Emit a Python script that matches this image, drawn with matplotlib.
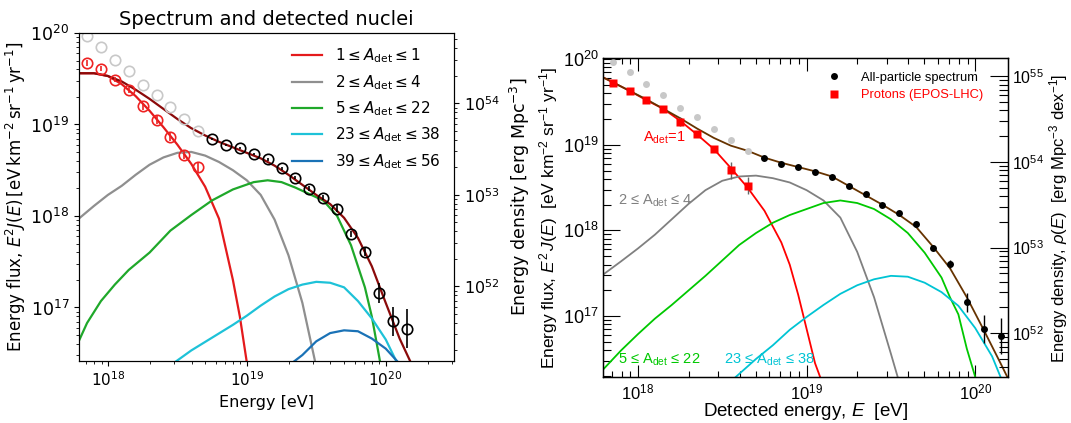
import numpy as np
import matplotlib
matplotlib.use("Agg")
import matplotlib.pyplot as plt
from matplotlib.lines import Line2D

plt.rcParams['mathtext.fontset'] = 'dejavusans'
plt.rcParams['mathtext.rm'] = 'Liberation Sans'
plt.rcParams['mathtext.it'] = 'Liberation Sans:italic'
plt.rcParams['mathtext.bf'] = 'Liberation Sans:bold'

# ---- data points (log10 E [eV], log10 E^2 J [eV km-2 sr-1 yr-1]) ----
lgE_low = [17.85, 17.95, 18.05, 18.15, 18.25, 18.35, 18.45, 18.55, 18.65]
lgF_low_all = [19.97, 19.85, 19.71, 19.58, 19.43, 19.32, 19.19, 19.06, 18.93]
lgF_prot_left = [19.67, 19.61, 19.49, 19.38, 19.20, 19.05, 18.86, 18.67, 18.53]
err_prot_left = [0.03, 0.03, 0.03, 0.035, 0.04, 0.04, 0.045, 0.045, 0.05]
lgF_prot_right = [19.72, 19.63, 19.52, 19.42, 19.27, 19.12, 18.95, 18.70, 18.52]
err_prot_right = [0.02, 0.02, 0.02, 0.03, 0.05, 0.03, 0.04, 0.10, 0.10]

lgE_high = [18.75, 18.85, 18.95, 19.05, 19.15, 19.25, 19.35, 19.45,
            19.55, 19.65, 19.75, 19.85, 19.95, 20.05, 20.15]
lgF_all = [18.84, 18.78, 18.74, 18.68, 18.62, 18.52, 18.42, 18.30,
           18.20, 18.08, 17.80, 17.61, 17.16, 16.85, 16.77]
err_all = [0.01, 0.01, 0.01, 0.01, 0.015, 0.02, 0.02, 0.025,
           0.03, 0.035, 0.035, 0.05, 0.11, 0.16, 0.21]

# ---- left panel model curves ----
L_tot_x = [17.79, 17.9, 18.0, 18.1, 18.2, 18.3, 18.4, 18.5, 18.6, 18.7, 18.8, 18.9, 19.0,
           19.1, 19.2, 19.3, 19.4, 19.5, 19.6, 19.7, 19.8, 19.9, 20.0, 20.1, 20.18]
L_tot_y = [19.56, 19.56, 19.53, 19.47, 19.38, 19.28, 19.17, 19.06, 18.96, 18.88, 18.81, 18.75, 18.69,
           18.63, 18.55, 18.45, 18.34, 18.23, 18.13, 17.98, 17.76, 17.45, 17.05, 16.66, 16.40]
L_a1_x = [17.79, 17.9, 18.0, 18.1, 18.2, 18.3, 18.4, 18.5, 18.6, 18.7, 18.8, 18.9, 18.95, 19.0]
L_a1_y = [19.56, 19.56, 19.53, 19.44, 19.31, 19.15, 18.97, 18.78, 18.57, 18.32, 17.97, 17.30, 16.90, 16.40]
L_a2_x = [17.79, 17.9, 18.0, 18.1, 18.2, 18.3, 18.4, 18.5, 18.6, 18.7, 18.8, 18.9, 19.0,
          19.1, 19.2, 19.3, 19.4, 19.5]
L_a2_y = [17.97, 18.11, 18.23, 18.33, 18.45, 18.56, 18.64, 18.69, 18.70, 18.66, 18.59, 18.50, 18.39,
          18.23, 17.96, 17.57, 17.05, 16.35]
L_a3_x = [17.79, 17.85, 17.95, 18.05, 18.15, 18.3, 18.45, 18.6, 18.75, 18.9, 19.05, 19.15,
          19.25, 19.35, 19.45, 19.55, 19.65, 19.75, 19.85, 19.9, 19.96]
L_a3_y = [16.63, 16.83, 17.07, 17.25, 17.41, 17.60, 17.84, 18.01, 18.17, 18.29, 18.37, 18.39,
          18.37, 18.31, 18.24, 18.17, 18.00, 17.68, 17.22, 16.90, 16.40]
L_a4_x = [18.49, 18.6, 18.75, 18.9, 19.0, 19.1, 19.2, 19.3, 19.4, 19.5, 19.6, 19.7, 19.8, 19.9, 20.0, 20.08]
L_a4_y = [16.41, 16.53, 16.67, 16.81, 16.91, 17.02, 17.12, 17.20, 17.25, 17.28, 17.27, 17.22, 17.07, 16.88, 16.65, 16.40]
L_a5_x = [19.34, 19.4, 19.5, 19.6, 19.7, 19.8, 19.9, 20.0, 20.09]
L_a5_y = [16.41, 16.48, 16.63, 16.72, 16.75, 16.74, 16.66, 16.55, 16.40]

# ---- right panel model curves ----
R_tot_x = [17.79, 17.85, 17.95, 18.05, 18.15, 18.25, 18.35, 18.45, 18.55, 18.65, 18.75, 18.85, 18.95,
           19.05, 19.15, 19.25, 19.35, 19.45, 19.55, 19.65, 19.75, 19.85, 19.95, 20.05, 20.15, 20.19]
R_tot_y = [19.79, 19.73, 19.63, 19.53, 19.42, 19.31, 19.19, 19.08, 18.99, 18.93, 18.85, 18.79, 18.74,
           18.69, 18.63, 18.52, 18.41, 18.30, 18.18, 18.04, 17.81, 17.56, 17.22, 16.84, 16.45, 16.29]
R_a1_x = [17.79, 17.85, 17.95, 18.05, 18.15, 18.25, 18.35, 18.45, 18.55, 18.65, 18.75, 18.85,
          18.9, 18.95, 19.0, 19.05, 19.08]
R_a1_y = [19.79, 19.73, 19.63, 19.52, 19.42, 19.28, 19.12, 18.95, 18.73, 18.50, 18.23, 17.86,
          17.60, 17.25, 16.85, 16.45, 16.29]
R_a2_x = [17.79, 17.9, 18.0, 18.1, 18.2, 18.3, 18.4, 18.5, 18.6, 18.7, 18.8, 18.9, 19.0,
          19.1, 19.2, 19.3, 19.4, 19.5, 19.54]
R_a2_y = [17.48, 17.64, 17.79, 17.95, 18.13, 18.31, 18.47, 18.58, 18.63, 18.64, 18.61, 18.56, 18.47,
          18.35, 18.15, 17.75, 17.22, 16.56, 16.29]
R_a3_x = [17.79, 17.9, 18.0, 18.1, 18.2, 18.3, 18.4, 18.5, 18.6, 18.7, 18.8, 18.9, 19.0,
          19.1, 19.2, 19.3, 19.4, 19.5, 19.6, 19.7, 19.8, 19.85, 19.9, 19.95, 20.0]
R_a3_y = [16.37, 16.60, 16.79, 16.97, 17.13, 17.30, 17.47, 17.65, 17.83, 17.97, 18.09, 18.18, 18.25,
          18.32, 18.35, 18.32, 18.25, 18.13, 17.97, 17.74, 17.45, 17.22, 17.02, 16.62, 16.29]
R_a4_x = [18.58, 18.7, 18.8, 18.9, 19.0, 19.1, 19.2, 19.3, 19.4, 19.5, 19.6, 19.7, 19.8, 19.9, 20.0, 20.1, 20.15]
R_a4_y = [16.29, 16.50, 16.66, 16.84, 16.99, 17.13, 17.26, 17.36, 17.43, 17.47, 17.46, 17.39, 17.28, 17.12, 16.86, 16.53, 16.29]

left_labels = [r'$1 \leq A_{\rm det} \leq 1$', r'$2 \leq A_{\rm det} \leq 4$',
               r'$5 \leq A_{\rm det} \leq 22$', r'$23 \leq A_{\rm det} \leq 38$',
               r'$39 \leq A_{\rm det} \leq 56$']
left_colors = ['#e41a1c', '#8f8f8f', '#1fa82a', '#1ec2d8', '#1a72b6']
right_colors = ['#ff0000', '#808080', '#00c800', '#00c4d4']


def p10(v):
    return 10.0 ** np.asarray(v)


def dex_err(lgF, err):
    f = p10(lgF)
    e = np.asarray(err)
    return [f - f * 10 ** (-e), f * 10 ** e - f]


fig = plt.figure(figsize=(10.71, 4.23), dpi=100)

# ================= left panel (matplotlib style) =================
ax = fig.add_axes([0.0738, 0.1466, 0.3501, 0.7754])
ax.set_xscale('log')
ax.set_yscale('log')
curves = [(L_a1_x, L_a1_y), (L_a2_x, L_a2_y), (L_a3_x, L_a3_y), (L_a4_x, L_a4_y), (L_a5_x, L_a5_y)]
for (cx, cy), col, lab in zip(curves, left_colors, left_labels):
    ax.plot(p10(cx), p10(cy), color=col, lw=1.6, label=lab)
ax.plot(p10(L_tot_x), p10(L_tot_y), color='#8b0a0a', lw=1.6)

ax.plot(p10(lgE_low), p10(lgF_low_all), 'o', ms=7.5, mfc='none', mec='#c8c8c8', mew=1.2)
ax.errorbar(p10(lgE_low), p10(lgF_prot_left), yerr=dex_err(lgF_prot_left, err_prot_left),
            fmt='o', ms=7.5, mfc='none', mec='#ee2222', ecolor='#ee2222', mew=1.2, elinewidth=1.2)
ax.errorbar(p10(lgE_high), p10(lgF_all), yerr=dex_err(lgF_all, err_all),
            fmt='o', ms=7.5, mfc='none', mec='black', ecolor='black', mew=1.2, elinewidth=1.2)

ax.set_xlim(6.2e17, 3.1e20)
ax.set_ylim(2.6e16, 1e20)
ax.tick_params(axis='x', labelsize=11)
ax.tick_params(axis='y', labelsize=12.5)
ax.set_xlabel('Energy [eV]', fontsize=11.5)
ax.set_ylabel(r'Energy flux, $E^2J(E)\,[\rm eV\,km^{-2}\,sr^{-1}\,yr^{-1}]$', fontsize=12, labelpad=2)
ax.set_title('Spectrum and detected nuclei', fontsize=14, pad=6)
ax.legend(loc='upper right', frameon=False, fontsize=11)

axr = ax.twinx()
axr.set_yscale('log')
axr.set_ylim(2.6e16 * 10 ** 34.77, 1e20 * 10 ** 34.77)
axr.tick_params(axis='y', labelsize=11.5)
axr.set_ylabel(r'Energy density [erg Mpc$^{-3}$]', fontsize=12.5, labelpad=6)

# ================= right panel (ROOT style) =================
rfont = 'Liberation Sans'
bx = fig.add_axes([0.563, 0.108, 0.378, 0.754])
bx.set_xscale('log')
bx.set_yscale('log')
rcurves = [(R_a1_x, R_a1_y), (R_a2_x, R_a2_y), (R_a3_x, R_a3_y), (R_a4_x, R_a4_y)]
for (cx, cy), col in zip(rcurves, right_colors):
    bx.plot(p10(cx), p10(cy), color=col, lw=1.3)
bx.plot(p10(R_tot_x), p10(R_tot_y), color='#663300', lw=1.3)

bx.plot(p10(lgE_low), p10(lgF_low_all), 'o', ms=5, color='#c8c8c8', mec='none')
bx.errorbar(p10(lgE_low), p10(lgF_prot_right), yerr=dex_err(lgF_prot_right, err_prot_right),
            fmt='s', ms=5.5, color='#ff0000', mec='none', ecolor='#666666', elinewidth=1.0)
bx.errorbar(p10(lgE_high), p10(lgF_all), yerr=dex_err(lgF_all, err_all),
            fmt='o', ms=5, color='black', mec='none', ecolor='black', elinewidth=1.0)

bx.set_xlim(6.2e17, 1.56e20)
bx.set_ylim(1.93e16, 1.02e20)
for sp in bx.spines.values():
    sp.set_linewidth(1.0)
bx.tick_params(axis='x', which='both', direction='in', top=True, bottom=True,
               labelsize=12, labelfontfamily=rfont, pad=4)
bx.tick_params(axis='x', which='major', length=9, width=0.8)
bx.tick_params(axis='x', which='minor', length=4.5, width=0.8)
bx.tick_params(axis='y', which='both', direction='in', left=True, right=False,
               labelsize=13, labelfontfamily=rfont, pad=3)
bx.tick_params(axis='y', which='major', length=12, width=0.8)
bx.tick_params(axis='y', which='minor', length=6, width=0.8)
bx.set_xlabel(r'Detected energy, $E$  [eV]', fontsize=13.5, family=rfont,
              math_fontfamily='custom', labelpad=-1)
bx.set_ylabel(r'Energy flux, $E^{2}\,J(E)$  [eV km$^{-2}$ sr$^{-1}$ yr$^{-1}$]', fontsize=12.5,
              family=rfont, math_fontfamily='custom', labelpad=2)

bx.text(0.10, 0.75, r'A$_{\rm det}$=1', transform=bx.transAxes, color='#ff0000',
        fontsize=10.5, family=rfont, math_fontfamily='custom', va='center')
bx.text(0.037, 0.555, r'2 ≤ A$_{\rm det}$ ≤ 4', transform=bx.transAxes, color='#808080',
        fontsize=10.5, family=rfont, math_fontfamily='custom', va='center')
bx.text(0.037, 0.054, r'5 ≤ A$_{\rm det}$ ≤ 22', transform=bx.transAxes, color='#00c800',
        fontsize=10.5, family=rfont, math_fontfamily='custom', va='center')
bx.text(0.30, 0.054, r'23 ≤ A$_{\rm det}$ ≤ 38', transform=bx.transAxes, color='#00c4d4',
        fontsize=10.5, family=rfont, math_fontfamily='custom', va='center')

handles = [Line2D([], [], ls='none', marker='o', ms=5, color='black', mec='none'),
           Line2D([], [], ls='none', marker='s', ms=5.5, color='#ff0000', mec='none')]
leg = bx.legend(handles, ['All-particle spectrum', 'Protons (EPOS-LHC)'], loc='upper left',
                bbox_to_anchor=(0.525, 0.995), frameon=False, handlelength=1.0,
                handletextpad=1.6, labelspacing=0.45, borderpad=0.4,
                prop={'family': rfont, 'size': 9.3})
for txt, col in zip(leg.get_texts(), ['black', '#ff0000']):
    txt.set_color(col)

bxr = bx.twinx()
bxr.set_yscale('log')
bxr.set_ylim(1.93e16 * 10 ** 35.2, 1.02e20 * 10 ** 35.2)
bxr.tick_params(axis='y', which='both', direction='in', labelsize=11.5,
                labelfontfamily=rfont, pad=3)
bxr.tick_params(axis='y', which='major', length=13, width=0.8)
bxr.tick_params(axis='y', which='minor', length=6.5, width=0.8)
bxr.set_ylabel(r'Energy density, $\rho(E)$  [erg Mpc$^{-3}$ dex$^{-1}$]', fontsize=12,
               family=rfont, math_fontfamily='custom', labelpad=2)

fig.savefig('out.png', dpi=100)
